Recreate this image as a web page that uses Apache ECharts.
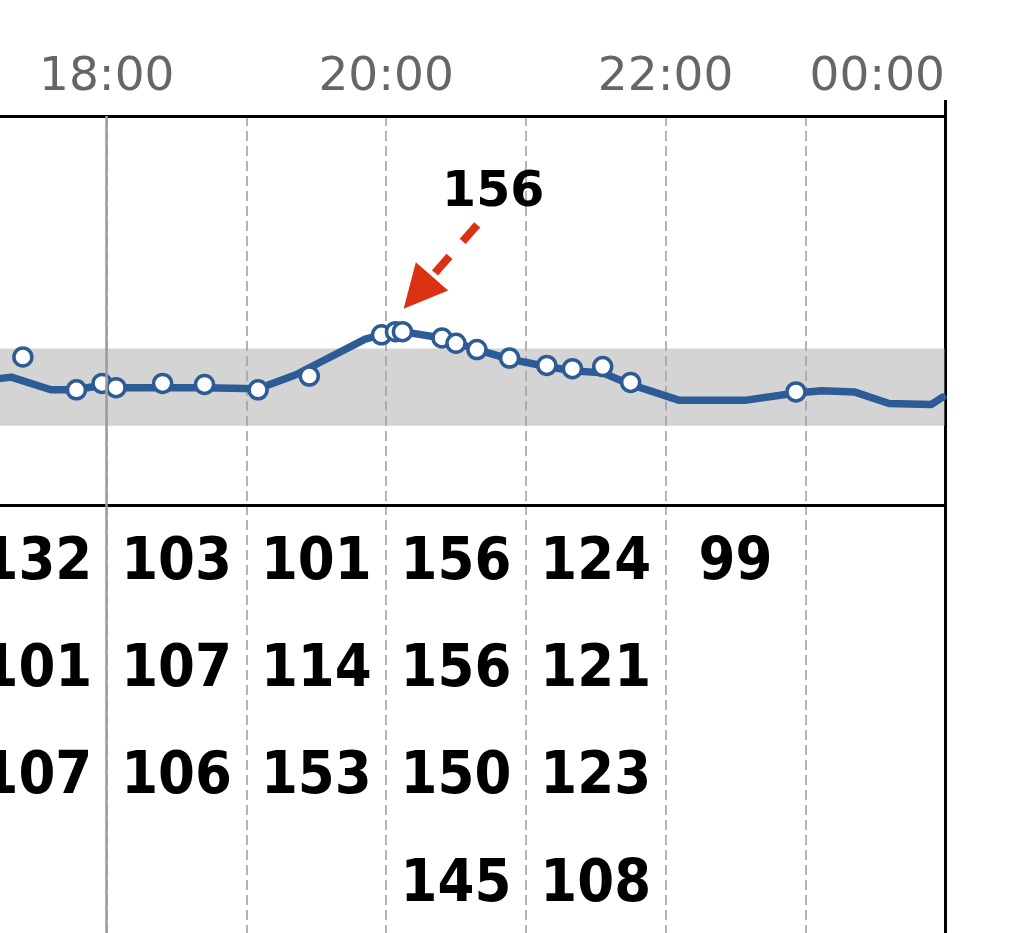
<!DOCTYPE html>
<html>
<head>
<meta charset="utf-8">
<script src="https://cdn.jsdelivr.net/npm/echarts@6/dist/echarts.min.js"></script>
<style>
  html, body { margin: 0; padding: 0; background: #fff; }
  #chart { width: 1031px; height: 933px; }
</style>
</head>
<body>
<div id="chart"></div>
<script>
// fingerstick readings (clock time, mg/dL)
const readingTimes = ['17:24', '17:47', '17:58', '18:04', '18:24', '18:42', '19:05', '19:27', '19:58',
  '20:04', '20:07', '20:24', '20:30', '20:39', '20:53', '21:09', '21:20', '21:33', '21:45', '22:56']
const readingValues = [132, 101, 107, 103, 107, 106, 101, 114, 153,
  156, 156, 150, 145, 139, 131, 124, 121, 123, 108, 99]

// sensor trace
const sensorTimes = ['17:12', '17:19', '17:36', '17:47', '17:57', '18:03', '18:24', '18:42', '19:05', '19:21',
  '19:51', '19:58', '20:07', '20:24', '20:39', '20:53', '21:09', '21:20', '21:33', '21:45',
  '22:06', '22:34', '22:56', '23:07', '23:21', '23:36', '23:54', '23:59']
const sensorValues = [111, 113, 101, 101, 105, 103, 103, 103, 102, 115,
  149, 153, 156, 150, 139, 130, 123, 119, 117, 106,
  91, 91, 98, 100, 99, 88, 87, 94]

const targetRange = [67, 140]
const labelHours = [18, 20, 22, 24]
const tickLabels = ['18:00', '20:00', '22:00', '00:00']

const blue = '#2d5b95'
const red = '#db3214'

function toHours(s) {
  let p = s.split(':')
  return +p[0] + p[1] / 60
}

let readings = readingTimes.map((t, i) => [toHours(t), readingValues[i]])
let sensor = sensorTimes.map((t, i) => [toHours(t), sensorValues[i]])

// table: one column per hour, readings listed in order
let tablePoints = []
let rowCount = {}
readings.forEach(r => {
  let h = Math.floor(r[0])
  rowCount[h] = (rowCount[h] || 0) + 1
  tablePoints.push([h + 0.5, rowCount[h], r[1]])
})

// highest reading gets the arrow note
let peak = readings.reduce((a, b) => (b[1] > a[1] ? b : a))

const dashed = {show: true, lineStyle: {color: '#b4b4b4', width: 2, type: [10, 5]}}
const hourLine = {
  silent: true,
  symbol: ['none', 'none'],
  label: {show: false},
  lineStyle: {type: 'solid', color: '#9c9c9c', width: 2.5},
  data: [{xAxis: 18}]
}

let myChart = echarts.init(document.getElementById('chart'))
myChart.setOption({
  animation: false,
  backgroundColor: '#fff',
  grid: [
    {left: -33, right: 86, top: 116, height: 389, outerBoundsMode: 'none'},
    {left: -33, right: 86, top: 505, height: 858, outerBoundsMode: 'none'}
  ],
  xAxis: [
    {
      gridIndex: 0, type: 'value', position: 'top', min: 17, max: 24, interval: 1,
      axisLine: {onZero: false, lineStyle: {color: '#000', width: 3}},
      axisTick: {show: true, customValues: [24], length: 16, lineStyle: {color: '#000', width: 3}},
      axisLabel: {
        margin: 15, fontSize: 47, fontFamily: 'DejaVu Sans', color: '#666',
        alignMaxLabel: 'right',
        formatter: v => {
          let i = labelHours.indexOf(v)
          return i >= 0 ? tickLabels[i] : ''
        }
      },
      splitLine: {show: false}
    },
    {
      gridIndex: 0, type: 'value', position: 'bottom', min: 17, max: 24, interval: 1,
      axisLine: {onZero: false, lineStyle: {color: '#000', width: 3}},
      axisTick: {show: false},
      axisLabel: {show: false},
      splitLine: dashed
    },
    {
      gridIndex: 1, type: 'value', position: 'top', min: 17, max: 24, interval: 1,
      axisLine: {show: false, onZero: false},
      axisTick: {show: false},
      axisLabel: {show: false},
      splitLine: dashed
    }
  ],
  yAxis: [
    {
      gridIndex: 0, type: 'value', position: 'right', min: -8, max: 360,
      axisLine: {show: true, onZero: false, lineStyle: {color: '#000', width: 3}},
      axisTick: {show: false},
      axisLabel: {show: false},
      splitLine: {show: false}
    },
    {
      gridIndex: 1, type: 'value', position: 'right', inverse: true, min: 0.455, max: 8.455,
      axisLine: {show: true, onZero: false, lineStyle: {color: '#000', width: 3}},
      axisTick: {show: false},
      axisLabel: {show: false},
      splitLine: {show: false}
    }
  ],
  series: [
    {
      name: 'sensor',
      type: 'line',
      xAxisIndex: 0,
      yAxisIndex: 0,
      data: sensor,
      showSymbol: false,
      z: 3,
      lineStyle: {color: blue, width: 7.5, cap: 'round', join: 'round'},
      markArea: {
        silent: true,
        itemStyle: {color: 'rgba(160,160,160,0.45)'},
        data: [[{yAxis: targetRange[0]}, {yAxis: targetRange[1]}]]
      },
      markLine: hourLine
    },
    {
      name: 'readings',
      type: 'scatter',
      xAxisIndex: 0,
      yAxisIndex: 0,
      data: readings,
      symbol: 'circle',
      symbolSize: 18,
      z: 4,
      itemStyle: {color: '#fff', borderColor: blue, borderWidth: 3.5, opacity: 1},
      markLine: {
        silent: true,
        symbol: ['none', 'triangle'],
        symbolSize: 43,
        label: {show: false},
        lineStyle: {type: [22, 20], color: red, width: 8, opacity: 1},
        itemStyle: {color: red},
        data: [[
          {coord: [peak[0] + 0.585, peak[1] + 101]},
          {coord: [peak[0] + 0.16, peak[1] + 37]}
        ]]
      },
      markPoint: {
        silent: true,
        symbol: 'circle',
        symbolSize: 1,
        itemStyle: {color: 'rgba(0,0,0,0)'},
        label: {
          show: true, position: 'inside', formatter: String(peak[1]),
          fontFamily: 'DejaVu Sans', fontWeight: 'bold', fontSize: 49, color: '#000'
        },
        data: [{coord: [peak[0] + 0.7, peak[1] + 131]}]
      }
    },
    {
      name: 'table',
      type: 'scatter',
      xAxisIndex: 2,
      yAxisIndex: 1,
      data: tablePoints,
      symbolSize: 1,
      itemStyle: {color: 'rgba(0,0,0,0)', opacity: 1},
      label: {
        show: true, position: 'inside',
        formatter: p => p.value[2],
        fontFamily: 'DejaVu Sans Condensed, DejaVu Sans', fontWeight: 'bold', fontSize: 59,
        color: '#000', opacity: 1
      },
      markLine: hourLine
    }
  ]
})
</script>
</body>
</html>
